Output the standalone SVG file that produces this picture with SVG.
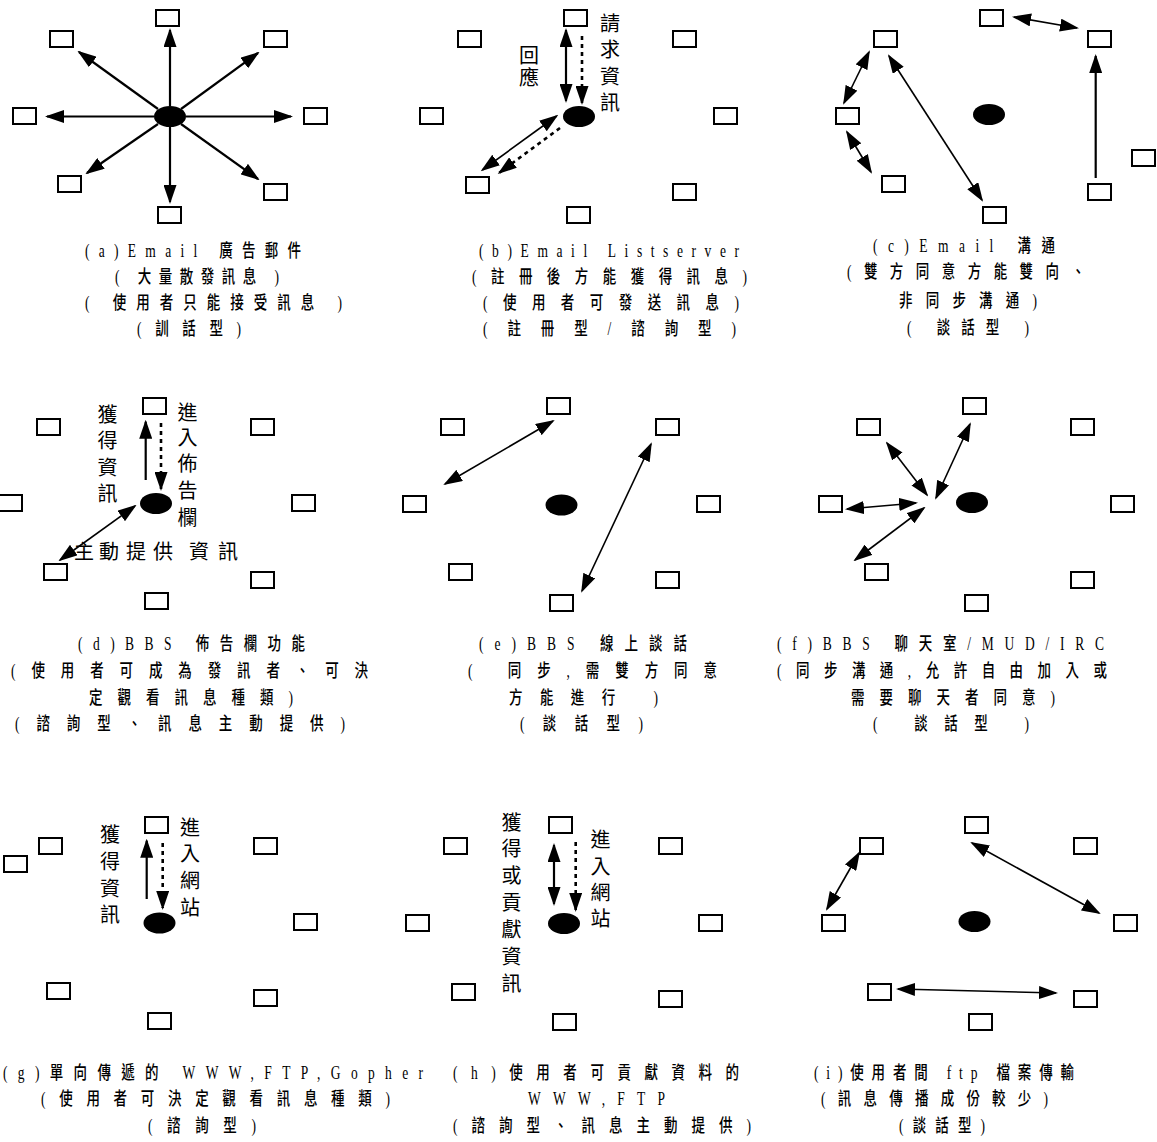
<svg xmlns="http://www.w3.org/2000/svg" width="1157" height="1142" viewBox="0 0 1157 1142">
<style>
.box{fill:#fff;stroke:#000;stroke-width:2}
.hub{fill:#000}
.ln{stroke:#000;stroke-width:1.6;fill:none}
.tk{stroke-width:2.2}
.dot{stroke-width:2.6;stroke-dasharray:4 4}
.lbl{font-family:"Noto Sans CJK TC",sans-serif;font-size:20px;text-anchor:middle;fill:#000}
.cap{font-family:"Liberation Serif","Noto Sans CJK TC",serif;font-size:18px;font-weight:500;fill:#000}
</style>
<defs>
<marker id="ah" markerUnits="userSpaceOnUse" viewBox="0 0 19 13" markerWidth="19" markerHeight="13" refX="17" refY="6.5" orient="auto-start-reverse"><path d="M0,0 L19,6.5 L0,13 z" fill="#000"/></marker>
</defs>
<rect width="1157" height="1142" fill="#fff"/>

<!-- Panel a -->
<g id="a-nodes">
<g id="a1"><rect class="box" x="156" y="10" width="23" height="16"/></g>
<g id="a2"><rect class="box" x="50" y="31" width="23" height="16"/></g>
<g id="a3"><rect class="box" x="264" y="31" width="23" height="16"/></g>
<g id="a4"><rect class="box" x="13" y="108" width="23" height="16"/></g>
<g id="a5"><rect class="box" x="304" y="108" width="23" height="16"/></g>
<g id="a6"><rect class="box" x="58" y="176" width="23" height="16"/></g>
<g id="a7"><rect class="box" x="158" y="207" width="23" height="16"/></g>
<g id="a8"><rect class="box" x="264" y="184" width="23" height="16"/></g>
<g id="a-hub"><ellipse class="hub" cx="170" cy="116.5" rx="16" ry="10.5"/></g>
</g>
<!-- Panel b -->
<g id="b-nodes">
<g id="b1"><rect class="box" x="564" y="10" width="23" height="16"/></g>
<g id="b2"><rect class="box" x="458" y="31" width="23" height="16"/></g>
<g id="b3"><rect class="box" x="673" y="31" width="23" height="16"/></g>
<g id="b4"><rect class="box" x="420" y="108" width="23" height="16"/></g>
<g id="b5"><rect class="box" x="714" y="108" width="23" height="16"/></g>
<g id="b6"><rect class="box" x="466" y="177" width="23" height="16"/></g>
<g id="b7"><rect class="box" x="567" y="207" width="23" height="16"/></g>
<g id="b8"><rect class="box" x="673" y="184" width="23" height="16"/></g>
<g id="b-hub"><ellipse class="hub" cx="579" cy="116.5" rx="16" ry="10.5"/></g>
</g>
<!-- Panel c -->
<g id="c-nodes">
<g id="c1"><rect class="box" x="980" y="10" width="23" height="16"/></g>
<g id="c2"><rect class="box" x="874" y="31" width="23" height="16"/></g>
<g id="c3"><rect class="box" x="1088" y="31" width="23" height="16"/></g>
<g id="c4"><rect class="box" x="836" y="108" width="23" height="16"/></g>
<g id="c5"><rect class="box" x="1132" y="150" width="23" height="16"/></g>
<g id="c6"><rect class="box" x="882" y="176" width="23" height="16"/></g>
<g id="c7"><rect class="box" x="983" y="207" width="23" height="16"/></g>
<g id="c8"><rect class="box" x="1088" y="184" width="23" height="16"/></g>
<g id="c-hub"><ellipse class="hub" cx="989" cy="114.5" rx="16" ry="10.5"/></g>
</g>
<!-- Panel d -->
<g id="d-nodes">
<g id="d1"><rect class="box" x="143" y="398" width="23" height="16"/></g>
<g id="d2"><rect class="box" x="37" y="419" width="23" height="16"/></g>
<g id="d3"><rect class="box" x="251" y="419" width="23" height="16"/></g>
<g id="d4"><rect class="box" x="-1" y="495" width="23" height="16"/></g>
<g id="d5"><rect class="box" x="292" y="495" width="23" height="16"/></g>
<g id="d6"><rect class="box" x="44" y="564" width="23" height="16"/></g>
<g id="d7"><rect class="box" x="145" y="593" width="23" height="16"/></g>
<g id="d8"><rect class="box" x="251" y="572" width="23" height="16"/></g>
<g id="d-hub"><ellipse class="hub" cx="156" cy="503.5" rx="16" ry="10.5"/></g>
</g>
<!-- Panel e -->
<g id="e-nodes">
<g id="e1"><rect class="box" x="547" y="398" width="23" height="16"/></g>
<g id="e2"><rect class="box" x="441" y="419" width="23" height="16"/></g>
<g id="e3"><rect class="box" x="656" y="419" width="23" height="16"/></g>
<g id="e4"><rect class="box" x="403" y="496" width="23" height="16"/></g>
<g id="e5"><rect class="box" x="697" y="496" width="23" height="16"/></g>
<g id="e6"><rect class="box" x="449" y="564" width="23" height="16"/></g>
<g id="e7"><rect class="box" x="550" y="595" width="23" height="16"/></g>
<g id="e8"><rect class="box" x="656" y="572" width="23" height="16"/></g>
<g id="e-hub"><ellipse class="hub" cx="561.5" cy="505" rx="16" ry="10.5"/></g>
</g>
<!-- Panel f -->
<g id="f-nodes">
<g id="f1"><rect class="box" x="963" y="398" width="23" height="16"/></g>
<g id="f2"><rect class="box" x="857" y="419" width="23" height="16"/></g>
<g id="f3"><rect class="box" x="1071" y="419" width="23" height="16"/></g>
<g id="f4"><rect class="box" x="819" y="496" width="23" height="16"/></g>
<g id="f5"><rect class="box" x="1111" y="496" width="23" height="16"/></g>
<g id="f6"><rect class="box" x="865" y="564" width="23" height="16"/></g>
<g id="f7"><rect class="box" x="965" y="595" width="23" height="16"/></g>
<g id="f8"><rect class="box" x="1071" y="572" width="23" height="16"/></g>
<g id="f-hub"><ellipse class="hub" cx="972" cy="502.5" rx="16" ry="10.5"/></g>
</g>
<!-- Panel g -->
<g id="g-nodes">
<g id="g1"><rect class="box" x="145" y="817" width="23" height="16"/></g>
<g id="g2"><rect class="box" x="39" y="838" width="23" height="16"/></g>
<g id="g3"><rect class="box" x="4" y="856" width="23" height="16"/></g>
<g id="g4"><rect class="box" x="254" y="838" width="23" height="16"/></g>
<g id="g5"><rect class="box" x="294" y="914" width="23" height="16"/></g>
<g id="g6"><rect class="box" x="47" y="983" width="23" height="16"/></g>
<g id="g7"><rect class="box" x="148" y="1013" width="23" height="16"/></g>
<g id="g8"><rect class="box" x="254" y="990" width="23" height="16"/></g>
<g id="g-hub"><ellipse class="hub" cx="159.5" cy="923" rx="16" ry="10.5"/></g>
</g>
<!-- Panel h -->
<g id="h-nodes">
<g id="h1"><rect class="box" x="549" y="817" width="23" height="16"/></g>
<g id="h2"><rect class="box" x="444" y="838" width="23" height="16"/></g>
<g id="h3"><rect class="box" x="659" y="838" width="23" height="16"/></g>
<g id="h4"><rect class="box" x="406" y="915" width="23" height="16"/></g>
<g id="h5"><rect class="box" x="699" y="915" width="23" height="16"/></g>
<g id="h6"><rect class="box" x="452" y="984" width="23" height="16"/></g>
<g id="h7"><rect class="box" x="553" y="1014" width="23" height="16"/></g>
<g id="h8"><rect class="box" x="659" y="991" width="23" height="16"/></g>
<g id="h-hub"><ellipse class="hub" cx="564" cy="923.5" rx="16" ry="10.5"/></g>
</g>
<!-- Panel i -->
<g id="i-nodes">
<g id="i1"><rect class="box" x="965" y="817" width="23" height="16"/></g>
<g id="i2"><rect class="box" x="860" y="838" width="23" height="16"/></g>
<g id="i3"><rect class="box" x="1074" y="838" width="23" height="16"/></g>
<g id="i4"><rect class="box" x="822" y="915" width="23" height="16"/></g>
<g id="i5"><rect class="box" x="1114" y="915" width="23" height="16"/></g>
<g id="i6"><rect class="box" x="868" y="984" width="23" height="16"/></g>
<g id="i7"><rect class="box" x="969" y="1014" width="23" height="16"/></g>
<g id="i8"><rect class="box" x="1074" y="991" width="23" height="16"/></g>
<g id="i-hub"><ellipse class="hub" cx="974.5" cy="921.5" rx="16" ry="10.5"/></g>
</g>

<!-- Graph labels -->
<g id="labels">
<text class="lbl" x="610 610 610 610" y="31 57 84 110">請求資訊</text>
<text class="lbl" x="529 529" y="62.5 85">回應</text>
<text class="lbl" x="107.5 107.5 107.5 107.5" y="421.5 448 474.5 501">獲得資訊</text>
<text class="lbl" x="187.5 187.5 187.5 187.5 187.5" y="419.5 445 471 498 524.5">進入佈告欄</text>
<text class="lbl" x="84 109 136 163 199 228" y="558.5">主動提供資訊</text>
<text class="lbl" x="110 110 110 110" y="842 868.5 895.5 921.5">獲得資訊</text>
<text class="lbl" x="190 190 190 190" y="834.5 861 888 914.5">進入網站</text>
<text class="lbl" x="511.5 511.5 511.5 511.5 511.5 511.5 511.5" y="829.5 856 883 910 937 964 991">獲得或貢獻資訊</text>
<text class="lbl" x="600.5 600.5 600.5 600.5" y="847 873.5 900 926">進入網站</text>
</g>

<!-- Connectors -->
<g id="connectors">
<!-- a -->
<line class="ln tk" x1="170" y1="106" x2="170" y2="30" marker-end="url(#ah)"/>
<line class="ln tk" x1="170" y1="127" x2="170" y2="202" marker-end="url(#ah)"/>
<line class="ln tk" x1="154" y1="116.5" x2="47" y2="116.5" marker-end="url(#ah)"/>
<line class="ln tk" x1="186" y1="116.5" x2="291" y2="116.5" marker-end="url(#ah)"/>
<line class="ln tk" x1="158" y1="109" x2="79" y2="52" marker-end="url(#ah)"/>
<line class="ln tk" x1="181" y1="109" x2="258" y2="53" marker-end="url(#ah)"/>
<line class="ln tk" x1="158" y1="124" x2="87" y2="173" marker-end="url(#ah)"/>
<line class="ln tk" x1="181" y1="124" x2="258" y2="179" marker-end="url(#ah)"/>
<!-- b -->
<line class="ln tk" x1="566" y1="30" x2="566" y2="101" marker-start="url(#ah)" marker-end="url(#ah)"/>
<line class="ln dot" x1="582" y1="36" x2="582" y2="103" marker-end="url(#ah)"/>
<line class="ln" x1="556.7" y1="116" x2="482.3" y2="170" marker-start="url(#ah)" marker-end="url(#ah)"/>
<line class="ln dot" x1="560" y1="128" x2="499.3" y2="172.7" marker-end="url(#ah)"/>
<!-- c -->
<line class="ln" x1="1014" y1="17" x2="1077" y2="28" marker-start="url(#ah)" marker-end="url(#ah)"/>
<line class="ln tk" x1="1095.7" y1="178" x2="1095.7" y2="56" marker-end="url(#ah)"/>
<line class="ln" x1="869" y1="52" x2="844" y2="103" marker-start="url(#ah)" marker-end="url(#ah)"/>
<line class="ln" x1="847" y1="132" x2="871" y2="172" marker-start="url(#ah)" marker-end="url(#ah)"/>
<line class="ln" x1="889" y1="56" x2="982" y2="200" marker-start="url(#ah)" marker-end="url(#ah)"/>
<!-- d -->
<line class="ln tk" x1="145.7" y1="480" x2="145.7" y2="421.7" marker-end="url(#ah)"/>
<line class="ln dot" x1="161" y1="423" x2="161" y2="489" marker-end="url(#ah)"/>
<line class="ln" x1="135" y1="506" x2="60" y2="560" marker-start="url(#ah)" marker-end="url(#ah)"/>
<!-- e -->
<line class="ln" x1="553" y1="421" x2="445" y2="484" marker-start="url(#ah)" marker-end="url(#ah)"/>
<line class="ln" x1="651" y1="444" x2="582" y2="591" marker-start="url(#ah)" marker-end="url(#ah)"/>
<!-- f -->
<line class="ln" x1="887" y1="443" x2="927" y2="495" marker-start="url(#ah)" marker-end="url(#ah)"/>
<line class="ln" x1="970" y1="424" x2="936" y2="498" marker-start="url(#ah)" marker-end="url(#ah)"/>
<line class="ln" x1="847" y1="509" x2="916" y2="503" marker-start="url(#ah)" marker-end="url(#ah)"/>
<line class="ln" x1="855" y1="560" x2="924" y2="508" marker-start="url(#ah)" marker-end="url(#ah)"/>
<!-- g -->
<line class="ln tk" x1="146.7" y1="899" x2="146.7" y2="840.7" marker-end="url(#ah)"/>
<line class="ln dot" x1="162.7" y1="843" x2="162.7" y2="908" marker-end="url(#ah)"/>
<!-- h -->
<line class="ln tk" x1="554" y1="845" x2="554" y2="904" marker-start="url(#ah)" marker-end="url(#ah)"/>
<line class="ln dot" x1="575.7" y1="842" x2="575.7" y2="910" marker-end="url(#ah)"/>
<!-- i -->
<line class="ln" x1="859" y1="853" x2="827" y2="909" marker-start="url(#ah)" marker-end="url(#ah)"/>
<line class="ln" x1="972" y1="843" x2="1099" y2="913" marker-start="url(#ah)" marker-end="url(#ah)"/>
<line class="ln" x1="898" y1="989" x2="1056" y2="993" marker-start="url(#ah)" marker-end="url(#ah)"/>
</g>

<!-- Captions (horizontally condensed) -->
<g id="captions" transform="scale(0.75 1)">
<text class="cap" x="113.3" y="257" textLength="288" lengthAdjust="spacing">(a)Email 廣告郵件</text>
<text class="cap" x="153.3" y="283" textLength="218.7" lengthAdjust="spacing">( 大量散發訊息 )</text>
<text class="cap" x="113.3" y="309" textLength="342.7" lengthAdjust="spacing">( 使用者只能接受訊息 )</text>
<text class="cap" x="182.7" y="335" textLength="138.7" lengthAdjust="spacing">(訓話型)</text>

<text class="cap" x="638.7" y="257" textLength="346.7" lengthAdjust="spacing">(b)Email Listserver</text>
<text class="cap" x="629.3" y="283" textLength="366.7" lengthAdjust="spacing">(註冊後方能獲得訊息)</text>
<text class="cap" x="644" y="309" textLength="341.3" lengthAdjust="spacing">(使用者可發送訊息)</text>
<text class="cap" x="644" y="335" textLength="337.3" lengthAdjust="spacing">(註冊型/諮詢型)</text>

<text class="cap" x="1164" y="252" textLength="242.7" lengthAdjust="spacing">(c)Email 溝通</text>
<text class="cap" x="1129.3" y="278" textLength="317.3" lengthAdjust="spacing">(雙方同意方能雙向、</text>
<text class="cap" x="1198.7" y="307" textLength="184" lengthAdjust="spacing">非同步溝通)</text>
<text class="cap" x="1209.3" y="334" textLength="162.7" lengthAdjust="spacing">( 談話型 )</text>

<text class="cap" x="104" y="650" textLength="302.7" lengthAdjust="spacing">(d)BBS 佈告欄功能</text>
<text class="cap" x="14.7" y="677" textLength="476" lengthAdjust="spacing">(使用者可成為發訊者、可決</text>
<text class="cap" x="118.7" y="704" textLength="272" lengthAdjust="spacing">定觀看訊息種類)</text>
<text class="cap" x="20" y="730" textLength="440" lengthAdjust="spacing">(諮詢型、訊息主動提供)</text>

<text class="cap" x="638.7" y="650" textLength="277.3" lengthAdjust="spacing">(e)BBS 線上談話</text>
<text class="cap" x="624" y="677" textLength="332" lengthAdjust="spacing">( 同步,需雙方同意</text>
<text class="cap" x="678.7" y="704" textLength="198.7" lengthAdjust="spacing">方能進行 )</text>
<text class="cap" x="693.3" y="730" textLength="164" lengthAdjust="spacing">(談話型)</text>

<text class="cap" x="1036" y="650" textLength="436" lengthAdjust="spacing">(f)BBS 聊天室/MUD/IRC</text>
<text class="cap" x="1036" y="677" textLength="440" lengthAdjust="spacing">(同步溝通,允許自由加入或</text>
<text class="cap" x="1134.7" y="704" textLength="272" lengthAdjust="spacing">需要聊天者同意)</text>
<text class="cap" x="1164" y="730" textLength="208" lengthAdjust="spacing">( 談話型 )</text>

<text class="cap" x="4" y="1079" textLength="560" lengthAdjust="spacing">(g)單向傳遞的 WWW,FTP,Gopher</text>
<text class="cap" x="54.7" y="1105" textLength="465.3" lengthAdjust="spacing">(使用者可決定觀看訊息種類)</text>
<text class="cap" x="197.3" y="1132" textLength="144" lengthAdjust="spacing">(諮詢型)</text>

<text class="cap" x="604" y="1079" textLength="381.3" lengthAdjust="spacing">(h)使用者可貢獻資料的</text>
<text class="cap" x="704" y="1105" textLength="182.7" lengthAdjust="spacing">WWW,FTP</text>
<text class="cap" x="604" y="1132" textLength="397.3" lengthAdjust="spacing">(諮詢型、訊息主動提供)</text>

<text class="cap" x="1085.3" y="1079" textLength="346.7" lengthAdjust="spacing">(i)使用者間 ftp 檔案傳輸</text>
<text class="cap" x="1094.7" y="1105" textLength="302.7" lengthAdjust="spacing">(訊息傳播成份較少)</text>
<text class="cap" x="1198.7" y="1132" textLength="114.7" lengthAdjust="spacing">(談話型)</text>
</g>
</svg>
